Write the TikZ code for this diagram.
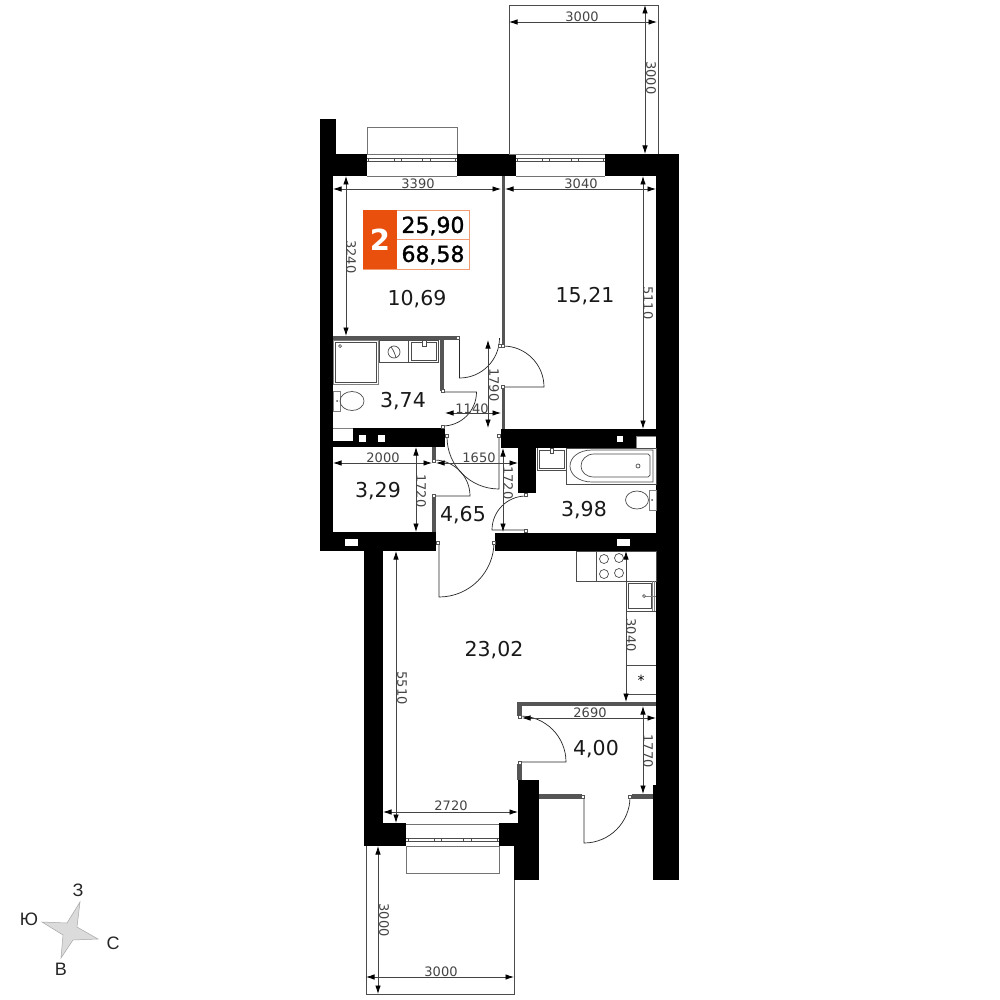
\documentclass[tikz,border=0pt]{standalone}
\usepackage{fontspec}
\setmainfont{DejaVu Sans}
\newfontfamily\compassfont{Liberation Sans}
\newfontfamily\badgefont[FakeBold=1.2]{DejaVu Sans}
\usetikzlibrary{arrows.meta}
\definecolor{badgeorange}{HTML}{E9500E}
\definecolor{badgeline}{HTML}{F29A72}
\definecolor{partitiongray}{HTML}{555555}
\definecolor{dimgray}{HTML}{444444}
\tikzset{
  wall/.style={fill=black},
  partition/.style={fill=partitiongray},
  shaft/.style={fill=white,draw=gray,line width=.6pt},
  jamb/.style={fill=white,draw=partitiongray,line width=.5pt},
  leaf/.style={draw=black!85,line width=.7pt},
  fixture/.style={draw=black!70,line width=.7pt},
  glazing/.style={draw=black!55,line width=.8pt},
  outline/.style={draw=black!70,line width=.7pt},
  dimline/.style={draw=dimgray,line width=.8pt,{Latex[length=8.5pt,width=5.5pt,black]}-{Latex[length=8.5pt,width=5.5pt,black]}},
  dimtext/.style={inner sep=0pt,text=dimgray,font=\fontsize{13}{15}\selectfont},
  dimside/.style={dimtext,rotate=-90},
  roomarea/.style={inner sep=0pt,text=black!90,font=\fontsize{20.5}{24}\selectfont},
  badgearea/.style={inner sep=0pt,text=black,font=\badgefont\fontsize{22}{26}\selectfont},
  compassmark/.style={inner sep=0pt,text=black!85,font=\compassfont\fontsize{18}{20}\selectfont}
}
\begin{document}
\begin{tikzpicture}[x=1pt,y=-1pt]
  \useasboundingbox (0,0) rectangle (1000,1000);
  \fill[white] (0,0) rectangle (1000,1000);

  % Balconies and bay outlines
  \draw[outline] (509,154) -- (509,5) -- (658,5) -- (658,154) -- cycle;
  \draw[outline] (366,846) -- (366,994) -- (514,994) -- (514,846);
  \draw[glazing] (367,154) -- (367,127) -- (457,127) -- (457,154);
  \draw[glazing] (406,846) -- (406,873) -- (499,873) -- (499,846);

  % Outer walls
  \fill[wall] (320,119) rectangle (333,551);
  \fill[wall] (320,119) rectangle (336,176);
  \fill[wall] (320,154) rectangle (367,176);
  \fill[wall] (457,154) rectangle (516,176);
  \fill[wall] (605,154) rectangle (679,176);
  \fill[wall] (656,154) rectangle (679,785);
  \fill[wall] (653,785) rectangle (679,880);
  \fill[wall] (364,551) rectangle (383,846);
  \fill[wall] (364,823) rectangle (406,846);
  \fill[wall] (499,823) rectangle (518,846);
  \fill[wall] (518,780) rectangle (539,880);
  \fill[wall] (514,846) rectangle (539,880);

  % Inner walls
  \fill[wall] (333,441) rectangle (445,447);
  \fill[wall] (353,428) rectangle (445,441);
  \fill[wall] (501,429) rectangle (656,448);
  \fill[wall] (518,448) rectangle (536,493);
  \fill[wall] (320,532) rectangle (436,551);
  \fill[wall] (495,533) rectangle (656,551);

  % Shafts
  \draw[shaft] (333,428.5) -- (353,428.5);
  \fill[white] (359,435) rectangle (366,442);
  \fill[white] (378,435) rectangle (385,442);
  \fill[white] (617,436) rectangle (623,442);
  \fill[white] (636,436) rectangle (656,448);
  \draw[shaft] (636,448) -- (636,436) -- (656,436);
  \fill[white] (345,539) rectangle (358,546);
  \fill[white] (617,539) rectangle (630,546);

  % Partitions
  \fill[partition] (501.5,176) rectangle (505,345);
  \fill[partition] (501.5,388) rectangle (505,429);
  \fill[partition] (333,336) rectangle (458,340);
  \fill[partition] (440,340) rectangle (444,391);
  \fill[partition] (432,447) rectangle (436,461);
  \fill[partition] (432,497) rectangle (436,532);
  \fill[partition] (517,702) rectangle (656,706);
  \fill[partition] (517,706) rectangle (522,716);
  \fill[partition] (517,764) rectangle (522,780);
  \fill[partition] (539,794) rectangle (582,799);
  \fill[partition] (632,794) rectangle (653,799);

  % Windows
  \draw[glazing] (367,176) -- (457,176);
  \draw[glazing] (516,176) -- (605,176);
  \draw[glazing] (406,846) -- (499,846);
  \draw[glazing] (509,154) -- (605,154);
  \draw[glazing] (367,154) -- (457,154);
  \draw[glazing] (406,824) -- (499,824);
  \foreach \xa/\xb/\ya in {367/457/158,516/605/158,406/499/838} {
    \draw[fixture] (\xa,\ya) -- (\xb,\ya);
    \draw[fixture] (\xa,\ya+3) -- (\xb,\ya+3);
    \foreach \t in {.02,.3,.38,.62,.7,.98}
      \draw[fixture] ({\xa+\t*(\xb-\xa)},\ya) -- ++(0,3);
  }

  % Doors
  \draw[leaf] (459.5,338) -- (459.5,378) arc[start angle=90,end angle=0,radius=40];
  \draw[leaf] (503,387) -- (544,387) arc[start angle=0,end angle=-90,radius=41];
  \draw[leaf] (442.5,392) -- (476.5,392) arc[start angle=0,end angle=90,radius=34];
  \draw[leaf] (499,437) -- (499,489) arc[start angle=90,end angle=180,radius=52];
  \draw[leaf] (434,496) -- (470,496) arc[start angle=0,end angle=-90,radius=36];
  \draw[leaf] (526,530) -- (492,530) arc[start angle=180,end angle=270,radius=34];
  \draw[leaf] (439,542) -- (439,597) arc[start angle=90,end angle=0,radius=55];
  \draw[leaf] (520,762) -- (566,762) arc[start angle=0,end angle=-90,radius=46];
  \draw[leaf] (584,797) -- (584,843) arc[start angle=90,end angle=0,radius=46];
  \foreach \x/\y in {458/338,500/346,503/346,503/387,442.5/391,442.5/427,446.5/436,499/436,434/461,434/496,526/495,526/531,437.5/542.5,493.5/542.5,520/717,520/763,583/797,630/797}
    \draw[jamb] (\x-1.5,\y-1.5) rectangle (\x+1.5,\y+1.5);

  % Bathroom fixtures
  \draw[fixture,draw=gray] (333,340) rectangle (378,384);
  \draw[fixture] (335,342) rectangle (376,382);
  \draw[fixture] (340,346) circle (1.5);
  \draw[fixture] (379,340) rectangle (408,362);
  \draw[fixture] (394,352) circle (6);
  \draw[fixture] (391,347) .. controls (394,351) and (395,354) .. (396,358);
  \draw[fixture] (408,340) rectangle (438,362);
  \draw[fixture] (411,342) rectangle (436,360);
  \draw[fixture,fill=white] (422,340) rectangle (426,346);
  \draw[fixture,draw=gray] (333,391) rectangle (340,411);
  \draw[fixture] (352,401) ellipse (12 and 9.5);
  \fill[black!70] (337,401) circle (1);
  \draw[fixture] (566,448) rectangle (656,484);
  \draw[fixture] (653,450) -- (592,450) .. controls (578,450) and (570,458) .. (570,466) .. controls (570,474) and (578,482) .. (592,482) -- (653,482) -- cycle;
  \draw[fixture] (648,454) -- (594,454) .. controls (586,454) and (581,460) .. (581,466) .. controls (581,472) and (586,477) .. (594,477) -- (648,477) -- (650,475) -- (650,456) -- cycle;
  \draw[fixture] (638,466) circle (2);
  \draw[fixture] (537,448) -- (537,470) -- (566,470);
  \draw[fixture] (539,450) rectangle (564,468);
  \draw[fixture,fill=white] (550,448) rectangle (553,453);
  \draw[fixture] (637,500) ellipse (11.5 and 9);
  \draw[fixture,fill=white,draw=gray] (649,490) rectangle (656,510);
  \fill[black!70] (652,500) circle (1);

  % Kitchen
  \draw[fixture] (576,551) rectangle (656,581);
  \draw[fixture] (596,551) -- (596,581);
  \foreach \x/\y in {604/559,619/558,604/574,619/573}
    \draw[fixture] (\x,\y) circle (4.5);
  \draw[fixture] (626,581) -- (626,694);
  \draw[fixture] (626,611) -- (656,611);
  \draw[fixture] (626,665) -- (656,665);
  \draw[fixture] (626,694) -- (656,694);
  \draw[fixture] (628,583) rectangle (651,608);
  \draw[fixture,draw=gray] (652,581) -- (652,611);
  \draw[fixture,draw=gray] (654.5,581) -- (654.5,611);
  \draw[fixture,draw=gray] (644,596) -- (656,596);
  \draw[fixture,fill=white] (644,596) circle (1.5);
  \node[inner sep=0pt,font=\fontsize{14}{14}\selectfont] (hobstar) at (641,680) {*};

  % Dimensions
  \draw[dimline] (509,22) -- (657,22);
  \draw[dimline] (645,5) -- (645,154);
  \draw[dimline] (333,189) -- (501,189);
  \draw[dimline] (505,189) -- (656,189);
  \draw[dimline] (346,176) -- (346,336);
  \draw[dimline] (643,176) -- (643,429);
  \draw[dimline] (488,340) -- (488,428);
  \draw[dimline] (445,413) -- (501,413);
  \draw[dimline] (333,463) -- (432,463);
  \draw[dimline] (436,463) -- (518,463);
  \draw[dimline] (416,447) -- (416,532);
  \draw[dimline] (503,448) -- (503,532);
  \draw[dimline] (396,551) -- (396,823);
  \draw[dimline] (383,812) -- (518,812);
  \draw[dimline] (626,551) -- (626,702);
  \draw[dimline] (522,718) -- (656,718);
  \draw[dimline] (643,706) -- (643,794);
  \draw[dimline] (378,846) -- (378,994);
  \draw[dimline] (366,977) -- (514,977);

  \node[dimtext] (balconytop) at (582,17) {3000};
  \node[dimside] (balconyside) at (651,78) {3000};
  \node[dimtext] (bedwidth) at (418,184) {3390};
  \node[dimtext] (livingwidth) at (581,184) {3040};
  \node[dimside] (beddepth) at (351,257) {3240};
  \node[dimside] (livingdepth) at (648,303) {5110};
  \node[dimside] (halldepth) at (494,385) {1790};
  \node[dimtext] (wcwidth) at (472,409) {1140};
  \node[dimtext] (closetwidth) at (383,458) {2000};
  \node[dimtext] (hallwidth) at (479,458) {1650};
  \node[dimside] (closetdepth) at (421,491) {1720};
  \node[dimside] (bathdepth) at (508,483) {1720};
  \node[dimside] (kitchendepth) at (402,688) {5510};
  \node[dimtext] (kitchenwidth) at (451,806) {2720};
  \node[dimside] (counterlength) at (631,635) {3040};
  \node[dimtext] (loggiawidth) at (590,713) {2690};
  \node[dimside] (loggiadepth) at (648,751) {1770};
  \node[dimside] (balconyleft) at (384,920) {3000};
  \node[dimtext] (balconybottom) at (441,972) {3000};

  % Room areas
  \node[roomarea] (bedroom) at (417,299) {10,69};
  \node[roomarea] (livingroom) at (585,296) {15,21};
  \node[roomarea] (wc) at (403,401) {3,74};
  \node[roomarea] (closet) at (378,491) {3,29};
  \node[roomarea] (hall) at (463,515) {4,65};
  \node[roomarea] (bath) at (584,510) {3,98};
  \node[roomarea] (kitchen) at (494,650) {23,02};
  \node[roomarea] (loggia) at (596,749) {4,00};

  % Badge
  \draw[draw=badgeline,line width=.8pt] (363,210.5) rectangle (469,269);
  \draw[draw=badgeline,line width=.8pt] (397,239.5) -- (469,239.5);
  \fill[badgeorange] (363,210) rectangle (397,269);
  \node[inner sep=0pt,text=white,font=\bfseries\fontsize{29}{32}\selectfont] (roomcount) at (380,240) {2};
  \node[badgearea] (livingarea) at (433,226) {25,90};
  \node[badgearea] (totalarea) at (433,255) {68,58};

  % Compass
  \draw[fill=black!14,draw=black!35,line width=.5pt] (80,902) -- (67,923) -- (42,922) -- (63,935) -- (61,958) -- (73,940) -- (98,939) -- (77,927) -- cycle;
  \node[compassmark] (north) at (78,890) {З};
  \node[compassmark] (west) at (29,919) {Ю};
  \node[compassmark] (east) at (113,943) {С};
  \node[compassmark] (south) at (61,969) {В};
\end{tikzpicture}
\end{document}
